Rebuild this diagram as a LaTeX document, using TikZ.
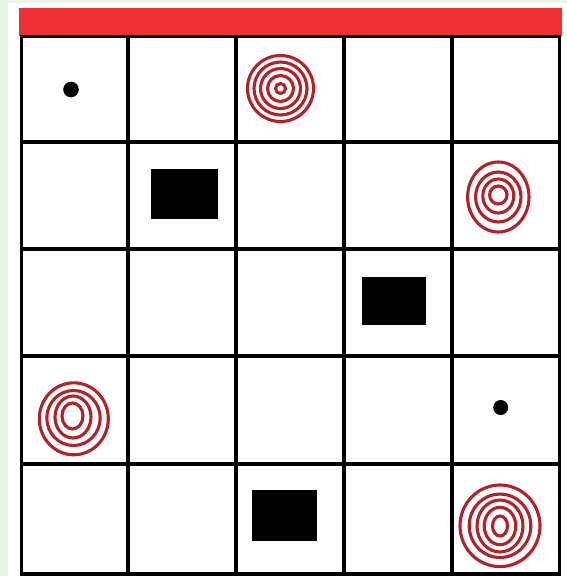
\documentclass[tikz,border=0pt]{standalone}
\usepackage{tikz}
\definecolor{bggreen}{RGB}{233,243,230}
\definecolor{barred}{RGB}{238,48,52}
\definecolor{ringred}{RGB}{178,34,38}
\begin{document}
\begin{tikzpicture}[x=1pt,y=-1pt,
  gridline/.style={line width=3.4pt,black,line cap=rect},
  ring/.style={line width=3.1pt,ringred},
  block/.style={fill=black},
  dotmark/.style={fill=black}]
\useasboundingbox (0,0) rectangle (567,576);
\fill[bggreen] (0,0) rectangle (567,576);
\fill[white] (8,3) rectangle (567,576);
% red bar
\fill[barred] (19.3,8.3) rectangle (562,36);
% grid
\foreach \x in {21.3,128,236,344,452,559.7}
  \draw[gridline] (\x,36.3) -- (\x,574);
\foreach \y in {36.3,142,249,356,464,574}
  \draw[gridline] (21.3,\y) -- (559.7,\y);
% dots
\fill[dotmark] (71,89.5) circle (7.8);
\fill[dotmark] (500.7,407.5) circle (7.5);
% blocks
\fill[block] (150.7,169) rectangle (217.7,219);
\fill[block] (361.7,276.7) rectangle (425.7,325);
\fill[block] (251.7,489.7) rectangle (317.3,540.7);
% target row0 col2
\foreach \r in {33,26.5,20,13,5}
  \draw[ring] (280.5,88.5) ellipse ({\r} and {\r});
% target row1 col4
\draw[ring] (498.3,197) ellipse (30.7 and 35);
\draw[ring] (498.3,197) ellipse (22.7 and 25);
\draw[ring] (498.3,196) ellipse (15.5 and 17);
\draw[ring] (498.3,195) ellipse (8.7 and 9);
% target row3 col0
\draw[ring] (73.8,418.8) ellipse (34.5 and 36);
\draw[ring] (73.5,418) ellipse (26.7 and 27.5);
\draw[ring] (73,417) ellipse (18 and 21);
\draw[ring] (72.5,416) ellipse (10.5 and 13);
% target row4 col4
\draw[ring] (500,525.8) ellipse (40 and 40.8);
\draw[ring] (500,525.8) ellipse (30.8 and 31.7);
\draw[ring] (500,526) ellipse (23 and 26);
\draw[ring] (500,526) ellipse (15.8 and 18.7);
\draw[ring] (500,526) ellipse (7.5 and 10);
\end{tikzpicture}
\end{document}
